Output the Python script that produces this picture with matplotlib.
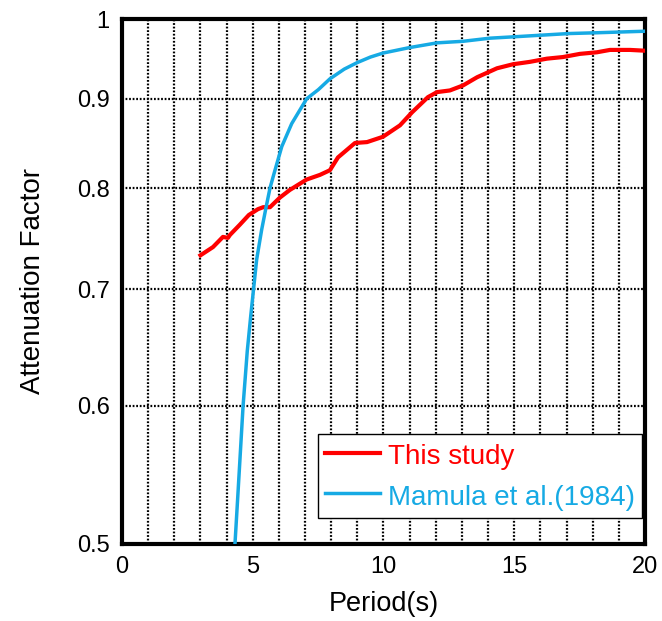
import numpy as np
import matplotlib
matplotlib.use('Agg')
from matplotlib import pyplot as plt
from matplotlib.ticker import FixedLocator, FixedFormatter, NullLocator

plt.rcParams['font.family'] = ['Liberation Sans', 'DejaVu Sans']

# this study
study_period = [3.0, 3.48, 3.86, 4.05, 4.13, 4.5, 4.85, 5.2, 5.4, 5.66, 6.04, 6.42, 7.06, 7.57,
                7.95, 8.26, 8.91, 9.37, 9.98, 10.63, 11.09, 11.7, 12.05, 12.54, 13.04, 13.58,
                14.34, 14.95, 15.6, 16.25, 16.86, 17.51, 18.16, 18.66, 19.43, 20.0]
study_factor = [0.732, 0.740, 0.750, 0.749, 0.752, 0.762, 0.772, 0.778, 0.780, 0.780, 0.790,
                0.798, 0.809, 0.814, 0.819, 0.833, 0.849, 0.850, 0.856, 0.869, 0.884, 0.902,
                0.908, 0.910, 0.916, 0.926, 0.937, 0.942, 0.945, 0.949, 0.951, 0.955, 0.957,
                0.960, 0.960, 0.959]

# Mamula et al. (1984)
mamula_period = [4.32, 4.42, 4.63, 4.79, 4.92, 5.0, 5.15, 5.34, 5.51, 5.66, 5.85, 6.11, 6.49,
                 7.06, 7.51, 7.95, 8.5, 8.99, 9.5, 9.98, 11.0, 12.05, 13.04, 14.07, 15.1,
                 16.1, 17.1, 18.16, 20.0]
mamula_factor = [0.5, 0.53, 0.6, 0.645, 0.675, 0.693, 0.728, 0.757, 0.780, 0.8, 0.819, 0.845,
                 0.871, 0.9, 0.911, 0.924, 0.936, 0.944, 0.951, 0.956, 0.963, 0.969, 0.971,
                 0.975, 0.977, 0.979, 0.981, 0.982, 0.984]

yticks = [0.5, 0.6, 0.7, 0.8, 0.9, 1.0]
ytick_labels = ['0.5', '0.6', '0.7', '0.8', '0.9', '1']

fig = plt.figure(figsize=(6.62, 6.21), dpi=100)
ax = fig.add_axes([0.1843, 0.124, 0.79, 0.8454])

ax.plot(study_period, study_factor, color='#ff0000', lw=3.0, label='This study', zorder=3)
ax.plot(mamula_period, mamula_factor, color='#16aae4', lw=2.5, label='Mamula et al.(1984)', zorder=3)

ax.set_yscale('log')
ax.set_xlim(0, 20)
ax.set_ylim(0.5, 1.0)
ax.yaxis.set_major_locator(FixedLocator(yticks))
ax.yaxis.set_major_formatter(FixedFormatter(ytick_labels))
ax.yaxis.set_minor_locator(NullLocator())
ax.set_xticks([0, 5, 10, 15, 20])
ax.set_xticks(range(1, 20), minor=True)

ax.grid(True, which='major', axis='y', ls=(0, (0.8, 0.8)), lw=1.6, c='k')
ax.grid(True, which='both', axis='x', ls=(0, (0.8, 0.8)), lw=1.6, c='k')
ax.tick_params(which='both', length=0, labelsize=17, pad=9)
for s in ax.spines.values():
    s.set_linewidth(3)

ax.set_xlabel('Period(s)', fontsize=19.5, labelpad=9)
ax.set_ylabel('Attenuation Factor', fontsize=20, labelpad=22)

leg = ax.legend(loc='lower right', fontsize=20, fancybox=False, framealpha=1,
                edgecolor='k', handlelength=1.95, handleheight=1.2, handletextpad=0.3,
                borderpad=0.25, labelspacing=0.4, borderaxespad=0,
                bbox_to_anchor=(0.994, 0.0495))
leg.get_frame().set_linewidth(1.0)
for line, text in zip(leg.get_lines(), leg.get_texts()):
    text.set_color(line.get_color())

fig.savefig('out.png', dpi=100)
